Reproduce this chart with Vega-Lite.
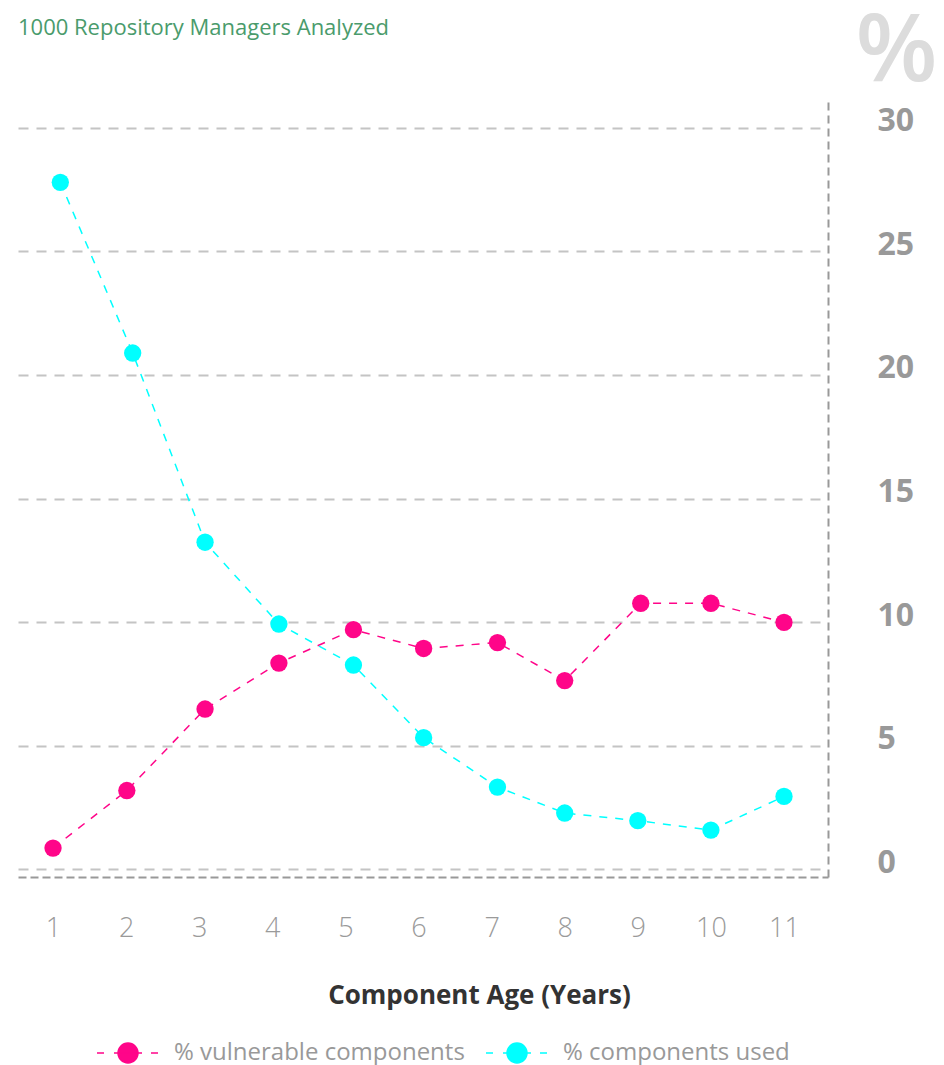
{
  "$schema": "https://vega.github.io/schema/vega-lite/v6.json",
  "width": 810,
  "height": 775,
  "autosize": {"type": "none"},
  "padding": {"left": 18, "top": 102, "right": 116, "bottom": 188},
  "background": "#ffffff",
  "title": {
    "text": "1000 Repository Managers Analyzed",
    "anchor": "start",
    "frame": "group",
    "orient": "top",
    "baseline": "alphabetic",
    "offset": -53,
    "font": "Open Sans",
    "fontSize": 22,
    "fontWeight": "normal",
    "color": "#4a9b6c"
  },
  "config": {
    "view": {"stroke": null},
    "font": "Open Sans"
  },
  "data": {
    "values": [
      {"age": 1.0, "series": "% vulnerable components", "pct": 0.85},
      {"age": 2.01, "series": "% vulnerable components", "pct": 3.18},
      {"age": 3.08, "series": "% vulnerable components", "pct": 6.48},
      {"age": 4.09, "series": "% vulnerable components", "pct": 8.34},
      {"age": 5.11, "series": "% vulnerable components", "pct": 9.69},
      {"age": 6.07, "series": "% vulnerable components", "pct": 8.93},
      {"age": 7.08, "series": "% vulnerable components", "pct": 9.17},
      {"age": 8.0, "series": "% vulnerable components", "pct": 7.63},
      {"age": 9.04, "series": "% vulnerable components", "pct": 10.76},
      {"age": 10.0, "series": "% vulnerable components", "pct": 10.76},
      {"age": 11.0, "series": "% vulnerable components", "pct": 9.99},
      {"age": 1.1, "series": "% components used", "pct": 27.8},
      {"age": 2.09, "series": "% components used", "pct": 20.89},
      {"age": 3.08, "series": "% components used", "pct": 13.23},
      {"age": 4.09, "series": "% components used", "pct": 9.92},
      {"age": 5.11, "series": "% components used", "pct": 8.26},
      {"age": 6.07, "series": "% components used", "pct": 5.32},
      {"age": 7.08, "series": "% components used", "pct": 3.32},
      {"age": 8.0, "series": "% components used", "pct": 2.27},
      {"age": 9.0, "series": "% components used", "pct": 1.96},
      {"age": 10.0, "series": "% components used", "pct": 1.58},
      {"age": 11.0, "series": "% components used", "pct": 2.94}
    ]
  },
  "encoding": {
    "x": {
      "field": "age",
      "type": "quantitative",
      "scale": {"domain": [0.521, 11.602], "nice": false, "zero": false},
      "axis": {
        "orient": "bottom",
        "values": [1, 2, 3, 4, 5, 6, 7, 8, 9, 10, 11],
        "grid": false,
        "ticks": false,
        "tickSize": 0,
        "domain": true,
        "domainColor": "#999999",
        "domainDash": [8, 4],
        "domainWidth": 2,
        "labelFont": "Open Sans",
        "labelFontSize": 27,
        "labelFontWeight": 300,
        "labelColor": "#9a9a9a",
        "labelBaseline": "middle",
        "labelPadding": 51,
        "title": "Component Age (Years)",
        "titleFont": "Open Sans",
        "titleFontSize": 26,
        "titleFontWeight": "bold",
        "titleColor": "#333333",
        "titleAlign": "center",
        "titleBaseline": "alphabetic",
        "titleX": 461,
        "titleY": 126
      }
    },
    "y": {
      "field": "pct",
      "type": "quantitative",
      "scale": {"domain": [-0.32, 31.05], "nice": false, "zero": false},
      "axis": {
        "orient": "right",
        "values": [0, 5, 10, 15, 20, 25, 30],
        "grid": true,
        "gridColor": "#c4c4c4",
        "gridDash": [10, 8],
        "gridDashOffset": 10,
        "gridWidth": 2,
        "ticks": false,
        "tickSize": 0,
        "domain": true,
        "domainColor": "#999999",
        "domainDash": [8, 5],
        "domainWidth": 2,
        "labelFont": "Open Sans",
        "labelFontSize": 32,
        "labelFontWeight": "bold",
        "labelColor": "#999999",
        "labelAlign": "left",
        "labelBaseline": "middle",
        "labelPadding": 49,
        "labelOffset": -7,
        "title": "%",
        "titleFont": "Open Sans",
        "titleFontSize": 95,
        "titleFontWeight": 600,
        "titleColor": "#dcdcdc",
        "titleAngle": 0,
        "titleAlign": "center",
        "titleBaseline": "alphabetic",
        "titleX": 68,
        "titleY": -22
      }
    },
    "color": {
      "field": "series",
      "type": "nominal",
      "scale": {
        "domain": ["% vulnerable components", "% components used"],
        "range": ["#ff0589", "#00ffff"]
      },
      "legend": {
        "orient": "none",
        "legendX": 98,
        "legendY": 939,
        "direction": "horizontal",
        "title": null,
        "padding": 0,
        "labelFont": "Open Sans",
        "labelFontSize": 24,
        "labelColor": "#999999",
        "labelLimit": 0,
        "labelOffset": 34,
        "columnPadding": 18,
        "symbolType": "M-3.1,0H-2.4M-1.4,0H1.4M2.3,0H3.0M1,0A1,1,0,1,1,-1,0A1,1,0,1,1,1,0Z",
        "symbolSize": 400,
        "symbolStrokeWidth": 1.5,
        "symbolOpacity": 1
      }
    }
  },
  "layer": [
    {
      "mark": {"type": "line", "strokeWidth": 1.5, "strokeDash": [8, 8]}
    },
    {
      "mark": {"type": "point", "filled": true, "size": 300, "opacity": 1, "shape": "circle"}
    }
  ]
}
